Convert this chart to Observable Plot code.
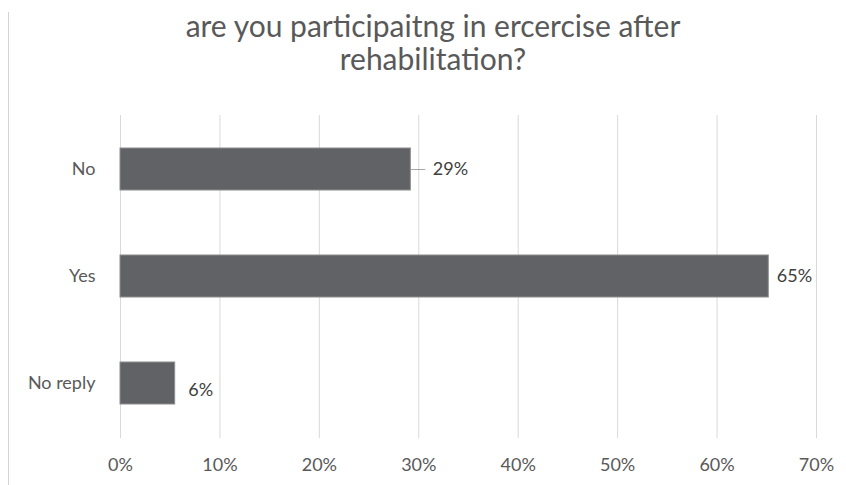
<!DOCTYPE html>
<html>
<head>
<meta charset="utf-8">
<script src="https://cdn.jsdelivr.net/npm/d3@7"></script>
<script src="https://cdn.jsdelivr.net/npm/@observablehq/plot@0.6"></script>
<style>
  html, body { margin: 0; padding: 0; background: #fff; }
  #wrap { position: relative; width: 846px; height: 485px; overflow: hidden; font-family: Lato, "Open Sans", sans-serif; }
  #border { position: absolute; left: 8px; top: 12px; bottom: 0; width: 1px; background: #d4d4d4; }
  #title { position: absolute; left: 433px; top: 9px; transform: translateX(-50%); width: 700px; text-align: center;
           font-size: 30px; line-height: 33px; color: #595959; }
  #chart { position: absolute; left: 0; top: 100px; }
</style>
</head>
<body>
<div id="wrap">
  <div id="border"></div>
  <div id="title">are you participaitng in ercercise after<br>rehabilitation?</div>
  <div id="chart"></div>
</div>
<script>
const categories = ["No", "Yes", "No reply"];
const values = [29.2, 65.2, 5.5];           // percent
const labels = ["29%", "65%", "6%"];
const xTicks = [0, 10, 20, 30, 40, 50, 60, 70];

const data = categories.map((c, i) => ({category: c, value: values[i], label: labels[i]}));
const labelStyle = {x: "value", y: "category", text: "label", textAnchor: "start", fill: "#404040", fontSize: 18};

const plot = Plot.plot({
  width: 846,
  height: 385,
  marginLeft: 120,
  marginRight: 30,
  marginTop: 15,
  marginBottom: 47,
  style: {fontFamily: "Lato, 'Open Sans', sans-serif", fontSize: "18px", color: "#595959", background: "transparent"},
  x: {domain: [0, 70], ticks: xTicks, tickFormat: d => d + "%", tickSize: 0, tickPadding: 20, label: null},
  y: {domain: categories, paddingInner: 0.605, paddingOuter: 0.3025, tickSize: 0, tickPadding: 25, label: null},
  marks: [
    Plot.gridX(xTicks, {stroke: "#d9d9d9", strokeOpacity: 1, strokeWidth: 1}),
    Plot.barX(data, {x: "value", y: "category", fill: "#616266", stroke: "#8c8c8c", strokeWidth: 1}),
    Plot.ruleY(data.filter(d => d.category === "No"), {y: "category", x1: "value", x2: d => d.value + 1.5, stroke: "#a6a6a6", strokeWidth: 1}),
    Plot.text(data.filter(d => d.category === "No"), {...labelStyle, dx: 22}),
    Plot.text(data.filter(d => d.category === "Yes"), {...labelStyle, dx: 8}),
    Plot.text(data.filter(d => d.category === "No reply"), {...labelStyle, dx: 13, dy: 7})
  ]
});
document.getElementById("chart").appendChild(plot);
</script>
</body>
</html>
